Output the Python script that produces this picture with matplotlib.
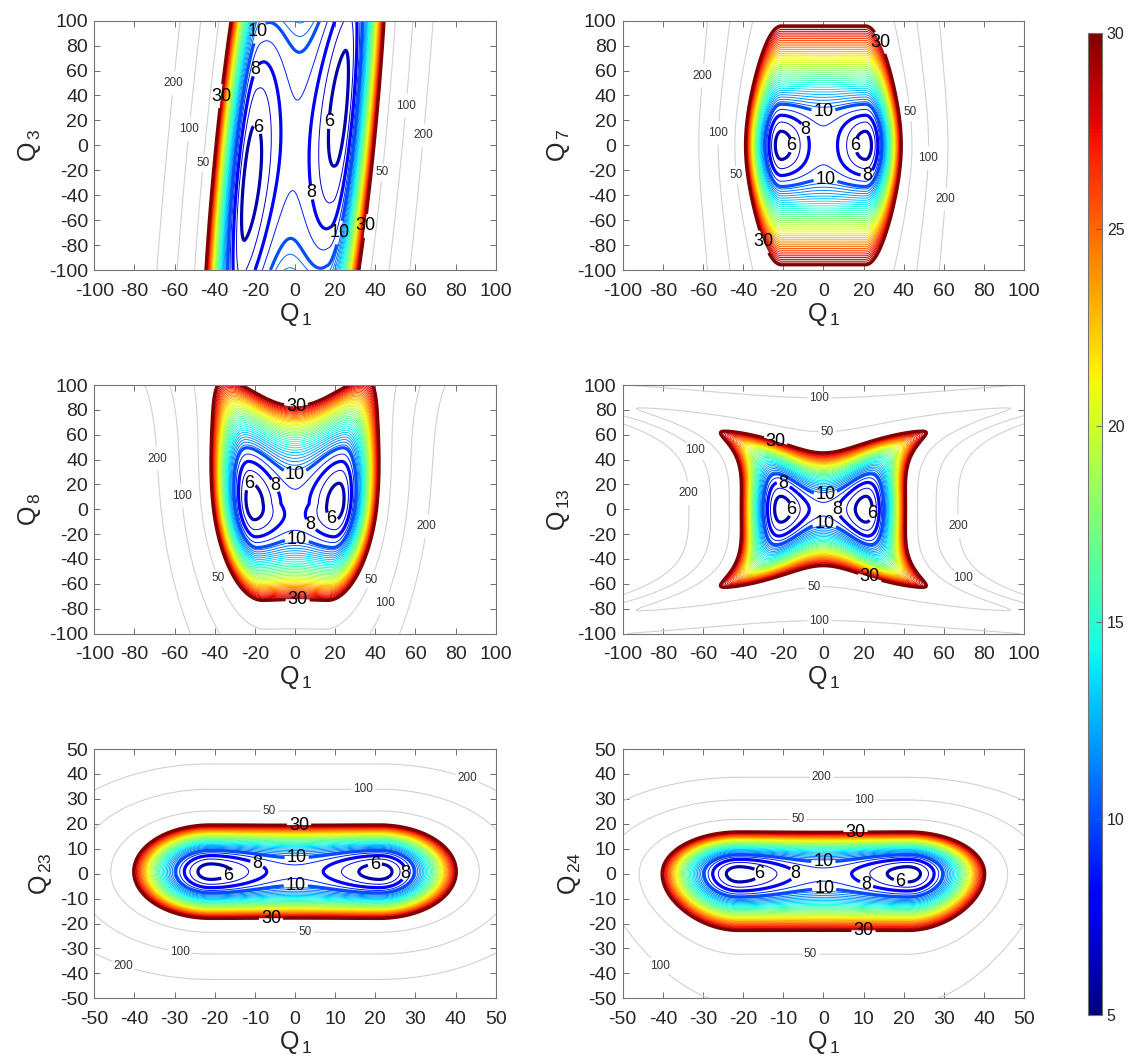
import numpy as np
import matplotlib
matplotlib.use("Agg")
import matplotlib.pyplot as plt
from matplotlib.colors import Normalize
from matplotlib.colorbar import ColorbarBase

plt.rcParams['font.family'] = ['Liberation Sans', 'DejaVu Sans']
plt.rcParams['mathtext.fontset'] = 'custom'
plt.rcParams['mathtext.rm'] = 'Liberation Sans'
plt.rcParams['mathtext.it'] = 'Liberation Sans'
plt.rcParams['axes.unicode_minus'] = False


# =========================
# CONTOUR LEVELS
# =========================
V_MIN, V_MAX = 5, 30
BOLD_LEVELS = [6, 8, 10, 30]
THIN_LEVELS = [7, 9] + list(np.arange(10.5, 30, 0.5))
GRAY_LEVELS = [50, 100, 200]


# =========================
# MODEL SURFACE PARAMETERS
# =========================
V_FLOOR = 5.4        # energy at the two minima
BARRIER = 3.3        # saddle height above the minima
G_QUAD = 0.0547      # wall curvature
G_QUART = 1.763e-5   # wall stiffening

# one small set of shape parameters per panel
q3_shape = dict(sx=1.08, shear=0.055, tilt=1.43, sy_up=14.0, sy_dn=14.0, decay=235.0)
q7_shape = dict(sx=1.12, sy_up=3.38, sy_dn=3.38, ly_up=13.3, ly_dn=13.3, decay=29.0)
q8_shape = dict(yc=4.5, sy_up=4.97, sy_dn=3.9, fade_dn=40.0, lift4=5.2e-8,
                grow1=0.06, grow_up=7.6e-8)
q13_shape = dict(sy_up=3.15, sy_dn=3.15, hq=0.00134, grow2=0.002, grow4=1.3e-6)
q23_shape = dict(sx=1.04, yc=0.8, sy_up=0.94, sy_dn=0.94, decay=12.3)
q24_shape = dict(sx=1.04, sy_up=0.84, sy_dn=1.0, ly_dn=22.0, decay=12.3)

y_names = ["3", "7", "8", "13", "23", "24"]
shapes = [q3_shape, q7_shape, q8_shape, q13_shape, q23_shape, q24_shape]
ranges = [100, 100, 100, 100, 50, 50]

# label anchors (x, y) per panel, level -> points
labels_q3 = {6: [(-19, 14), (16, 19)], 8: [(-17, 59), (7.5, -38)],
             10: [(-14, 88), (22, -70)], 30: [(-39, 40), (37, -65)],
             50: [(-47, -14), (46, -22)], 100: [(-53, 13), (55, 32)],
             200: [(-61, 50), (65, 8)]}
labels_q7 = {6: [(-15, 0), (16, 0)], 8: [(-7.5, 14), (22, -24)],
             10: [(0, 30), (1, -29)], 30: [(28, 82), (-29, -77)],
             50: [(-46, -24), (46, 27)], 100: [(-54, 10), (54, -10)],
             200: [(-61, 56), (60, -43)]}
labels_q8 = {6: [(-23, 21), (19, -5)], 8: [(-10, 19), (7.5, -13)],
             10: [(0, 24), (1, -22)], 30: [(0.5, 83), (1.3, -74)],
             50: [(-39, -56), (39, -58)], 100: [(-54, 11), (44, -75)],
             200: [(-66, 41), (63, -13)]}
labels_q13 = {6: [(-17, 0), (22, -3)], 8: [(-21, 16), (6, 0)],
              10: [(1, 13), (0.5, -12)], 30: [(-24, 54), (24, -50)],
              50: [(2, 58), (-5, -59)], 100: [(-2, 88), (-66, 44), (71, -52), (-2, -87)],
              200: [(-66, 13), (66, -14)]}
labels_q23 = {6: [(-17, 0), (20, 2)], 8: [(-9.5, 4), (28, 0)],
              10: [(0.4, 6), (0.2, -4.3)], 30: [(1, 20), (-6, -17)],
              50: [(-6.4, 25), (2.5, -23.5)], 100: [(17, 35), (-29, -34)],
              200: [(44, 44), (-44, -43)]}
labels_q24 = {6: [(-16, 0), (19.5, -0.5)], 8: [(-4, 0.5), (11, -3)],
              10: [(0, 6), (0.2, -4.6)], 30: [(8, 17.5), (10, -22)],
              50: [(-6.4, 22), (-3.2, -33)], 100: [(10, 30), (-43, -41)],
              200: [(-0.4, 38.5)]}
label_sets = [labels_q3, labels_q7, labels_q8, labels_q13, labels_q23, labels_q24]


def pes(X, Y, xm=21.0, sx=1.0, shear=0.0, tilt=0.0, yc=0.0, sy_up=1.0, sy_dn=1.0,
        ly_up=1e9, ly_dn=1e9, decay=1e9, fade_dn=1e9, hq=0.0, lift4=0.0,
        grow1=0.0, grow2=0.0, grow4=0.0, grow_up=0.0):
    xs = X - shear * Y
    yy = Y - yc - tilt * np.clip(xs, -xm, xm)
    yp = np.maximum(yy, 0)
    half = xm + grow1 * yy + grow2 * yy ** 2 + grow4 * yy ** 4 + grow_up * yp ** 4
    dx = sx * np.maximum(np.abs(xs) - half, 0.0)
    sy = np.where(yy > 0, sy_up, sy_dn)
    ly = np.where(yy > 0, ly_up, ly_dn)
    dy = ly * np.arcsinh(yy / sy / ly)
    d2 = dx ** 2 + dy ** 2
    wall = G_QUAD * d2 + G_QUART * d2 ** 2
    u = xs / half
    bump = np.where(np.abs(u) < 1, (1 - u ** 2) ** 2, 0.0)
    h = (BARRIER * np.exp(-(yy / decay) ** 2) * np.exp(np.minimum(yy, 0) / fade_dn)
         * (1 + hq * yy ** 2 + lift4 * yp ** 4))
    return V_FLOOR + h * bump + wall


# =========================
# FIGURE
# =========================
W, H = 1131, 1057
fig = plt.figure(figsize=(W / 100, H / 100), dpi=100)
cmap = plt.get_cmap("jet")
norm = Normalize(V_MIN, V_MAX)
GRAY = (0.82, 0.82, 0.82)
TXT = (0.15, 0.15, 0.15)

cols = [94.3, 622.7]
rows = [(20.7, 270.0), (385.0, 633.5), (749.0, 998.3)]
ax_w = 401.4

for i in range(6):
    left = cols[i % 2]
    top, bot = rows[i // 2]
    ax = fig.add_axes([left / W, 1 - bot / H, ax_w / W, (bot - top) / H])

    r = ranges[i]
    g = np.linspace(-r, r, 501)
    X, Y = np.meshgrid(g, g)
    V = pes(X, Y, **shapes[i])

    texts = []
    for lev in GRAY_LEVELS:
        cs = ax.contour(X, Y, V, levels=[lev], colors=[GRAY], linewidths=0.8)
        pts = label_sets[i].get(lev, [])
        if pts:
            texts += cs.clabel(manual=pts, inline=True, inline_spacing=2,
                               fontsize=8.5, fmt="%d", colors=[(0.2, 0.2, 0.2)])

    ax.contour(X, Y, V, levels=THIN_LEVELS, cmap=cmap, norm=norm, linewidths=0.7)

    for lev in BOLD_LEVELS:
        cs = ax.contour(X, Y, V, levels=[lev], colors=[cmap(norm(lev))], linewidths=2.3)
        pts = label_sets[i].get(lev, [])
        if pts:
            texts += cs.clabel(manual=pts, inline=True, inline_spacing=2,
                               fontsize=13, fmt="%d", colors=["k"])
    for t in texts:
        t.set_rotation(0)

    step = 20 if r == 100 else 10
    ticks = np.arange(-r, r + 1, step)
    ax.set_xlim(-r, r)
    ax.set_ylim(-r, r)
    ax.set_xticks(ticks)
    ax.set_yticks(ticks)
    ax.tick_params(direction="in", top=True, right=True, length=4, width=0.6,
                   labelsize=14, colors=(0.35, 0.35, 0.35), labelcolor=TXT)
    ax.tick_params(axis="x", pad=9)
    ax.tick_params(axis="y", pad=4.5)
    for s in ax.spines.values():
        s.set_color((0.45, 0.45, 0.45))
        s.set_linewidth(0.8)
    ax.set_xlabel(r"$\mathregular{Q_{\,1}}$", fontsize=18, color=TXT, labelpad=1)
    ax.set_ylabel(r"$\mathregular{Q_{\,%s}}$" % y_names[i], fontsize=18,
                  color=TXT, labelpad=4)

# =========================
# COLORBAR
# =========================
cax = fig.add_axes([1088 / W, 1 - 1015 / H, 14 / W, (1015 - 33) / H])
cbar = ColorbarBase(cax, cmap=cmap, norm=norm, ticks=[5, 10, 15, 20, 25, 30])
cbar.outline.set_edgecolor((0.45, 0.45, 0.45))
cbar.outline.set_linewidth(0.8)
cax.tick_params(direction="in", length=4, width=0.6, labelsize=11.5,
                colors=(0.35, 0.35, 0.35), labelcolor=TXT)

fig.savefig("out.png", dpi=100)
